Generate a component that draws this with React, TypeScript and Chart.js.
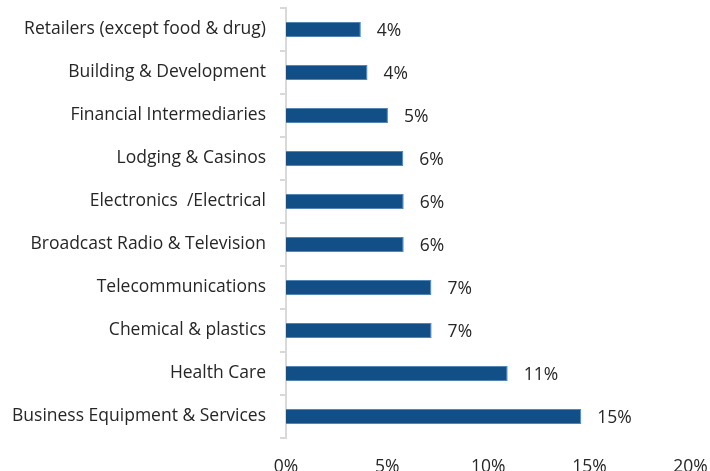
import React, { useEffect, useRef } from "react";
import { Chart, registerables } from "chart.js";

Chart.register(...registerables);

const categories = [
  "Retailers (except food & drug)",
  "Building & Development",
  "Financial Intermediaries",
  "Lodging & Casinos",
  "Electronics  /Electrical",
  "Broadcast Radio & Television",
  "Telecommunications",
  "Chemical & plastics",
  "Health Care",
  "Business Equipment & Services",
];
const values = [3.7, 4.03, 5.04, 5.8, 5.82, 5.82, 7.19, 7.2, 10.96, 14.6];
const valueLabels = ["4%", "4%", "5%", "6%", "6%", "6%", "7%", "7%", "11%", "15%"];
const xTicks = [0, 5, 10, 15, 20];

const FONT = "'Open Sans', 'Noto Sans', sans-serif";
const FSIZE = 17.5;

const labelPlugin = {
  id: "barLabels",
  afterDatasetsDraw(chart: any) {
    const ctx = chart.ctx;
    const meta = chart.getDatasetMeta(0);
    ctx.save();
    ctx.font = `${FSIZE}px ${FONT}`;
    ctx.fillStyle = "#262626";
    ctx.textAlign = "left";
    ctx.textBaseline = "middle";
    meta.data.forEach((bar: any, i: number) => {
      ctx.fillText(valueLabels[i], bar.x + 16, bar.y + 2);
    });
    ctx.restore();
  },
};

export default function App() {
  const ref = useRef<HTMLCanvasElement>(null);
  useEffect(() => {
    document.body.style.margin = "0";
    const chart = new Chart(ref.current!, {
      type: "bar",
      data: {
        labels: categories,
        datasets: [
          {
            data: values,
            backgroundColor: "#124f87",
            borderColor: "#5584b6",
            borderWidth: 1,
            barPercentage: 0.35,
            categoryPercentage: 1,
          },
        ],
      },
      plugins: [labelPlugin],
      options: {
        indexAxis: "y",
        animation: false,
        responsive: false,
        maintainAspectRatio: false,
        layout: { padding: { top: 8, right: 19.5, left: 0, bottom: 0 } },
        plugins: { legend: { display: false }, tooltip: { enabled: false } },
        scales: {
          x: {
            min: 0,
            max: 20,
            afterBuildTicks(scale: any) {
              scale.ticks = xTicks.map((v) => ({ value: v }));
            },
            afterFit(scale: any) {
              scale.height = 33;
              scale.paddingLeft = 0;
              scale.paddingRight = 0;
            },
            grid: { display: false, drawTicks: false },
            border: { display: false },
            ticks: {
              padding: 18.5,
              color: "#262626",
              font: { family: FONT, size: FSIZE },
              callback: (v: any) => `${v}%`,
              maxRotation: 0,
            },
          },
          y: {
            afterFit(scale: any) {
              scale.width = 286;
              scale.paddingTop = 0;
              scale.paddingBottom = 0;
            },
            grid: {
              drawOnChartArea: false,
              drawTicks: true,
              tickLength: 6,
              color: "#d9d9d9",
              lineWidth: 2,
              offset: true,
            },
            border: { display: true, color: "#d9d9d9", width: 2 },
            ticks: {
              padding: 14,
              color: "#262626",
              font: { family: FONT, size: FSIZE },
            },
          },
        },
      },
    });
    return () => chart.destroy();
  }, []);
  return <canvas ref={ref} width={710} height={471} style={{ display: "block" }} />;
}
